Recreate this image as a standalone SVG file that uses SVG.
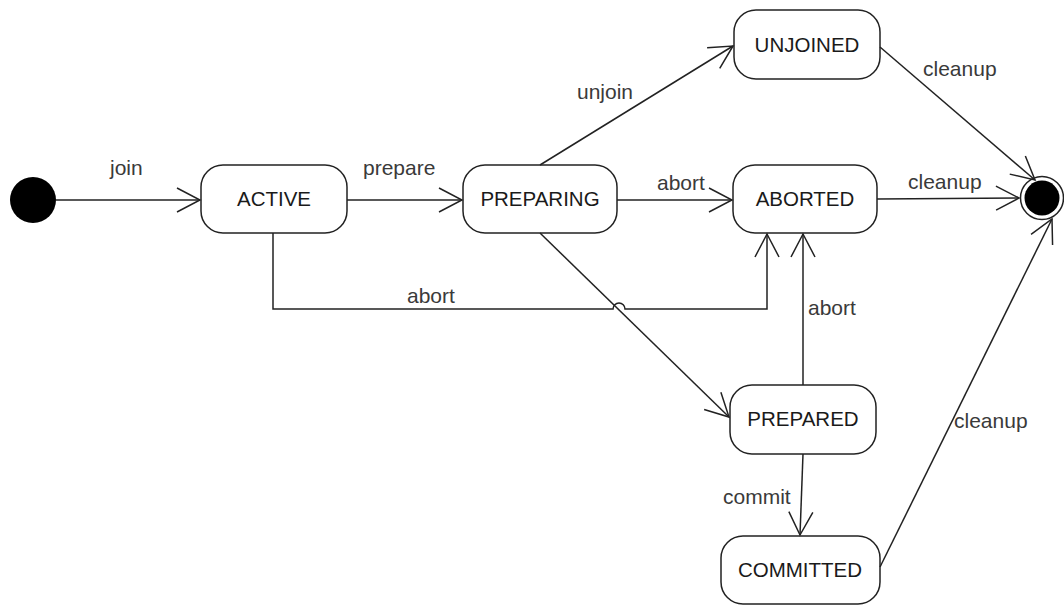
<svg xmlns="http://www.w3.org/2000/svg" width="1064" height="606" viewBox="0 0 1064 606">
  <style>
    .state rect { fill: #fff; stroke: #222; stroke-width: 1.5; }
    .state text { font-family: "Liberation Sans", Arial, sans-serif; font-size: 20.5px; fill: #1a1a1a; text-anchor: middle; }
    .edge { fill: none; stroke: #222; stroke-width: 1.5; }
    .lbl { font-family: "Liberation Sans", Arial, sans-serif; font-size: 21px; fill: #3a3a3a; }
  </style>
  <defs>
    <marker id="open" markerUnits="userSpaceOnUse" markerWidth="30" markerHeight="30" viewBox="-26 -15 30 30" refX="0" refY="0" orient="auto">
      <path d="M-23,-12 L0,0 L-23,12" fill="none" stroke="#222" stroke-width="1.5"/>
    </marker>
  </defs>

  <rect width="1064" height="606" fill="#fff"/>

  <!-- pseudo states -->
  <g id="initial">
    <circle cx="33" cy="200" r="23" fill="#000"/>
  </g>
  <g id="final">
    <circle cx="1042" cy="198" r="21.5" fill="#fff" stroke="#222" stroke-width="1.5"/>
    <circle cx="1042" cy="198" r="17.5" fill="#000"/>
  </g>

  <!-- states -->
  <g id="active" class="state">
    <rect x="201" y="165" width="146" height="68" rx="22"/>
    <text x="274" y="206">ACTIVE</text>
  </g>
  <g id="preparing" class="state">
    <rect x="463" y="165" width="154" height="68" rx="22"/>
    <text x="540" y="206">PREPARING</text>
  </g>
  <g id="unjoined" class="state">
    <rect x="734" y="10" width="146" height="69" rx="22"/>
    <text x="807" y="52">UNJOINED</text>
  </g>
  <g id="aborted" class="state">
    <rect x="733" y="165" width="144" height="68" rx="22"/>
    <text x="805" y="206">ABORTED</text>
  </g>
  <g id="prepared" class="state">
    <rect x="730" y="385" width="146" height="69" rx="22"/>
    <text x="803" y="426">PREPARED</text>
  </g>
  <g id="committed" class="state">
    <rect x="721" y="536" width="159" height="68" rx="22"/>
    <text x="800" y="577">COMMITTED</text>
  </g>

  <!-- transitions -->
  <g id="connectors">
    <path class="edge" d="M56,200 L200,200" marker-end="url(#open)"/>
    <path class="edge" d="M347,200 L462,200" marker-end="url(#open)"/>
    <path class="edge" d="M617,200 L732,200" marker-end="url(#open)"/>
    <path class="edge" d="M540,165 L733,46" marker-end="url(#open)"/>
    <path class="edge" d="M880,47 L1035,180" marker-end="url(#open)"/>
    <path class="edge" d="M877,199 L1019,198" marker-end="url(#open)"/>
    <path class="edge" d="M880,567 L1052,219" marker-end="url(#open)"/>
    <path class="edge" d="M540,233 L729,417" marker-end="url(#open)"/>
    <path class="edge" d="M803,454 L800,535" marker-end="url(#open)"/>
    <path class="edge" d="M803,385 L803,234" marker-end="url(#open)"/>
    <path class="edge" d="M273,233 L273,309 L613,309 A6,6 0 0 1 625,309 L767,309 L767,234" marker-end="url(#open)"/>

    <text class="lbl" x="110" y="175">join</text>
    <text class="lbl" x="363" y="175">prepare</text>
    <text class="lbl" x="577" y="99">unjoin</text>
    <text class="lbl" x="657" y="190">abort</text>
    <text class="lbl" x="923" y="76">cleanup</text>
    <text class="lbl" x="908" y="189">cleanup</text>
    <text class="lbl" x="954" y="428">cleanup</text>
    <text class="lbl" x="407" y="303">abort</text>
    <text class="lbl" x="808" y="315">abort</text>
    <text class="lbl" x="723" y="504">commit</text>
  </g>
</svg>
